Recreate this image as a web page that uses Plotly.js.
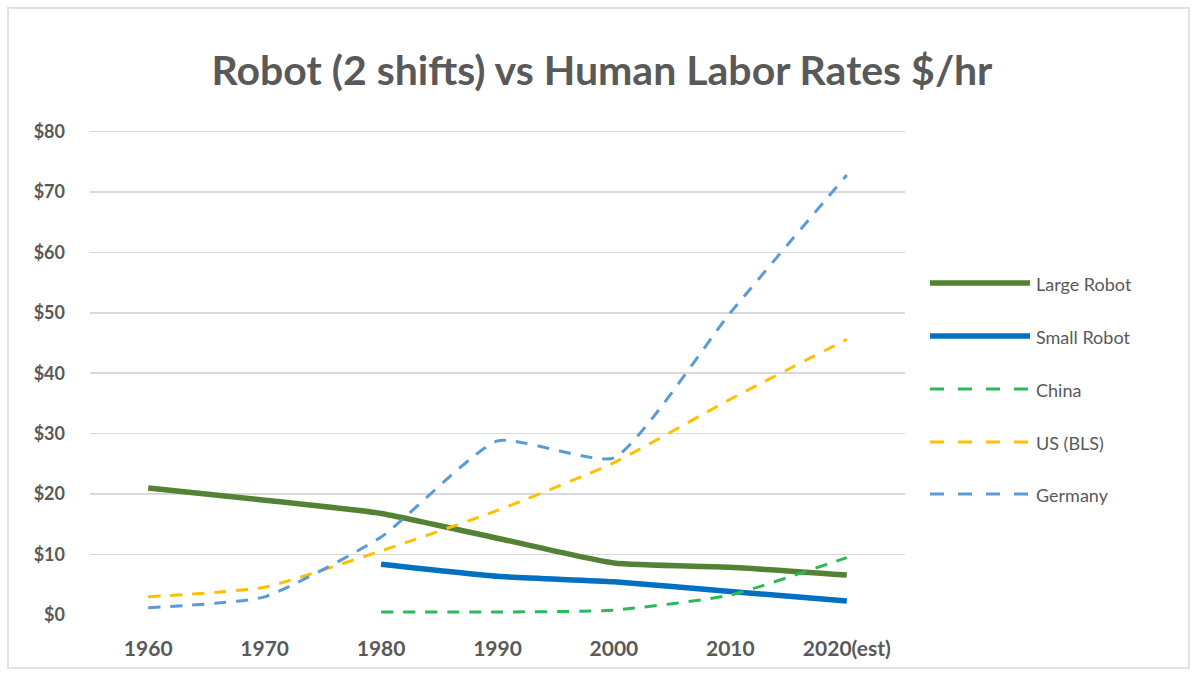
<!DOCTYPE html>
<html>
<head>
<meta charset="utf-8">
<script src="https://cdn.plot.ly/plotly-3.0.1.min.js"></script>
<style>html,body{margin:0;padding:0;background:#fff;}#chart{width:1192px;height:675px;}</style>
</head>
<body>
<div id="chart"></div>
<script>
const years = ["1960","1970","1980","1990","2000","2010","2020(est)"];
const largeRobot = [21.0, 19.0, 16.8, 12.7, 8.6, 7.9, 6.6];
const smallRobot = [null, null, 8.4, 6.4, 5.5, 3.9, 2.3];
const china = [null, null, 0.5, 0.5, 0.8, 3.3, 9.5];
const usBLS = [3.0, 4.6, 10.6, 17.3, 25.2, 35.7, 45.6];
const germany = [1.2, 3.0, 12.9, 28.8, 26.0, 50.0, 72.8];
const yTicks = [0, 10, 20, 30, 40, 50, 60, 70, 80];
const seriesNames = ["Large Robot", "Small Robot", "China", "US (BLS)", "Germany"];

const FONT = "Lato, 'Open Sans', sans-serif";
const styles = [
  {color: "#548235", width: 5.5, dash: "solid"},
  {color: "#0070C0", width: 5.5, dash: "solid"},
  {color: "#2EB85C", width: 3, dash: "12px,10px"},
  {color: "#FFC000", width: 3, dash: "12px,10px"},
  {color: "#5B9BD5", width: 3, dash: "12px,10px"}
];
const values = [largeRobot, smallRobot, china, usBLS, germany];

const traces = values.map((v, i) => ({
  type: "scatter",
  mode: "lines",
  x: years,
  y: v,
  name: seriesNames[i],
  showlegend: false,
  connectgaps: false,
  line: {color: styles[i].color, width: styles[i].width, dash: styles[i].dash, shape: "spline", smoothing: 0.5}
}));

// Plot area geometry (px) for custom legend placement in paper coords
const L = 90, R = 287, T = 129, B = 60, W = 1192, H = 675;
const pw = W - L - R, ph = H - T - B;
const px = x => (x - L) / pw;
const py = y => (H - B - y) / ph;

const legendY = [283, 336, 389, 442, 494];
const shapes = [{
  type: "rect", xref: "paper", yref: "paper",
  x0: px(8), x1: px(1189), y0: py(668), y1: py(8),
  line: {color: "#E2E2E2", width: 2}, fillcolor: "rgba(0,0,0,0)", layer: "below"
}];
const annotations = [];
seriesNames.forEach((n, i) => {
  shapes.push({
    type: "line", xref: "paper", yref: "paper",
    x0: px(930), x1: px(1030), y0: py(legendY[i]), y1: py(legendY[i]),
    line: {color: styles[i].color, width: styles[i].width, dash: i < 2 ? "solid" : "14px,14px"}
  });
  annotations.push({
    xref: "paper", yref: "paper", x: px(1034), y: py(legendY[i] + 1),
    xanchor: "left", yanchor: "middle", showarrow: false,
    text: n, font: {family: FONT, size: 18, color: "#595959"}
  });
});

const layout = {
  width: W, height: H,
  paper_bgcolor: "#ffffff", plot_bgcolor: "#ffffff",
  margin: {l: L, r: R, t: T, b: B},
  title: {
    text: "Robot (2 shifts) vs Human Labor Rates $/hr",
    font: {family: FONT, size: 41, color: "#595959", weight: "bold"},
    xref: "container", x: 0.505, xanchor: "center", yref: "container", y: 0.895, yanchor: "middle"
  },
  xaxis: {
    type: "category",
    range: [-0.5, 6.5],
    showgrid: false, zeroline: false, showline: false,
    ticks: "",
    tickfont: {family: FONT, size: 21, color: "#595959", weight: "bold"},
    ticklabelstandoff: 19,
    fixedrange: true
  },
  yaxis: {
    range: [0, 80.4],
    tickvals: yTicks,
    ticktext: yTicks.map(v => "$" + v),
    showgrid: true, gridcolor: "#D9D9D9", gridwidth: 1.5,
    zeroline: false, showline: false, ticks: "",
    tickfont: {family: FONT, size: 18, color: "#595959", weight: "bold"},
    ticklabelstandoff: 24,
    fixedrange: true
  },
  showlegend: false,
  shapes: shapes,
  annotations: annotations
};

Plotly.newPlot("chart", traces, layout, {displayModeBar: false, staticPlot: true});
</script>
</body>
</html>
